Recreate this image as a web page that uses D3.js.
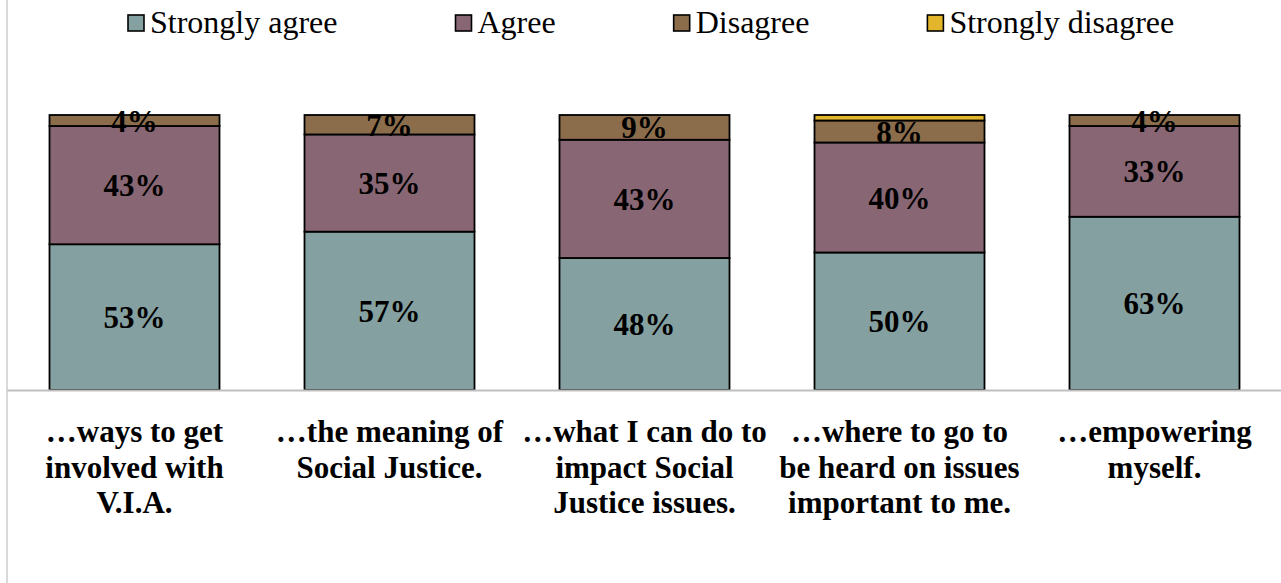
<!DOCTYPE html>
<html>
<head>
<meta charset="utf-8">
<script src="https://cdn.jsdelivr.net/npm/d3@7"></script>
<style>
  body { margin: 0; background: #fff; }
  svg text { font-family: "Liberation Serif", "Times New Roman", serif; fill: #000; }
</style>
</head>
<body>
<svg id="chart" width="1281" height="583"></svg>
<script>
// DATA
const categories = [
    ["…ways to get", "involved with", "V.I.A."],
    ["…the meaning of", "Social Justice."],
    ["…what I can do to", "impact Social", "Justice issues."],
    ["…where to go to", "be heard on issues", "important to me."],
    ["…empowering", "myself."]
];
const seriesNames = ["Strongly agree", "Agree", "Disagree", "Strongly disagree"];
const stronglyAgree = [53, 57, 48, 50, 63];
const agree = [43, 35, 43, 40, 33];
const disagree = [4, 7, 9, 8, 4];
const stronglyDisagree = [0, 0, 0, 2, 0];
const colors = ["#85a0a0", "#886673", "#8c6d4b", "#e2b52a"];

// SETUP
const svg = d3.select("#chart");
const plot = { left: 7, right: 1282, top: 115, bottom: 390 };

// build rows for stack
const rows = categories.map((c, i) => ({
    key: i,
    "Strongly agree": stronglyAgree[i],
    "Agree": agree[i],
    "Disagree": disagree[i],
    "Strongly disagree": stronglyDisagree[i]
}));

// 100% stacked, like the original
const stacked = d3.stack()
    .keys(seriesNames)
    .offset(d3.stackOffsetExpand)(rows);

// SCALES
const x = d3.scaleBand()
    .domain(rows.map(d => d.key))
    .range([plot.left, plot.right])
    .paddingInner(1 / 3)
    .paddingOuter(1 / 6);

const y = d3.scaleLinear()
    .domain([0, 1])
    .range([plot.bottom, plot.top]);

// left border line of chart area
svg.append("line")
    .attr("x1", 7).attr("x2", 7)
    .attr("y1", 0).attr("y2", 583)
    .attr("stroke", "#d9d9d9")
    .attr("stroke-width", 2);

// BARS
const layers = svg.selectAll("g.layer")
    .data(stacked)
    .enter()
    .append("g")
    .attr("class", "layer")
    .attr("fill", (d, i) => colors[i]);

layers.selectAll("rect")
    .data(d => d.filter(s => s[1] - s[0] > 0))
    .enter()
    .append("rect")
    .attr("x", d => x(d.data.key))
    .attr("y", d => y(d[1]))
    .attr("width", x.bandwidth())
    .attr("height", d => y(d[0]) - y(d[1]))
    .attr("stroke", "#000")
    .attr("stroke-width", 1.8);

// X AXIS (gray line + category labels)
const xAxis = svg.append("g")
    .attr("transform", `translate(0,${plot.bottom})`)
    .call(d3.axisBottom(x).tickSize(0).tickFormat(""));

xAxis.select(".domain")
    .attr("stroke", "#bfbfbf")
    .attr("stroke-width", 2);

xAxis.selectAll(".tick").each(function (k) {
    const t = d3.select(this).append("text")
        .attr("text-anchor", "middle")
        .attr("font-size", "31px")
        .attr("font-weight", "bold")
        .attr("y", 52);
    categories[k].forEach((line, j) => {
        t.append("tspan")
            .attr("x", 0)
            .attr("dy", j === 0 ? 0 : 35.5)
            .text(line);
    });
});

// VALUE LABELS
layers.each(function (layer) {
    d3.select(this).selectAll("text")
        .data(layer.filter(s => s.data[layer.key] >= 3))
        .enter()
        .append("text")
        .attr("x", d => x(d.data.key) + x.bandwidth() / 2)
        .attr("y", d => (y(d[0]) + y(d[1])) / 2 + 11)
        .attr("text-anchor", "middle")
        .attr("font-size", "31px")
        .attr("font-weight", "bold")
        .text(d => d.data[layer.key] + "%");
});

// LEGEND
const legend = svg.append("g").attr("transform", "translate(128,0)");
let lx = 0;
seriesNames.forEach((name, i) => {
    const g = legend.append("g").attr("transform", `translate(${lx},0)`);
    g.append("rect")
        .attr("x", 0).attr("y", 15)
        .attr("width", 16).attr("height", 16)
        .attr("fill", colors[i])
        .attr("stroke", "#000")
        .attr("stroke-width", 1.6);
    const t = g.append("text")
        .attr("x", 22)
        .attr("y", 33)
        .attr("font-size", "32px")
        .text(name);
    lx += 22 + t.node().getComputedTextLength() + 118;
});
</script>
</body>
</html>
